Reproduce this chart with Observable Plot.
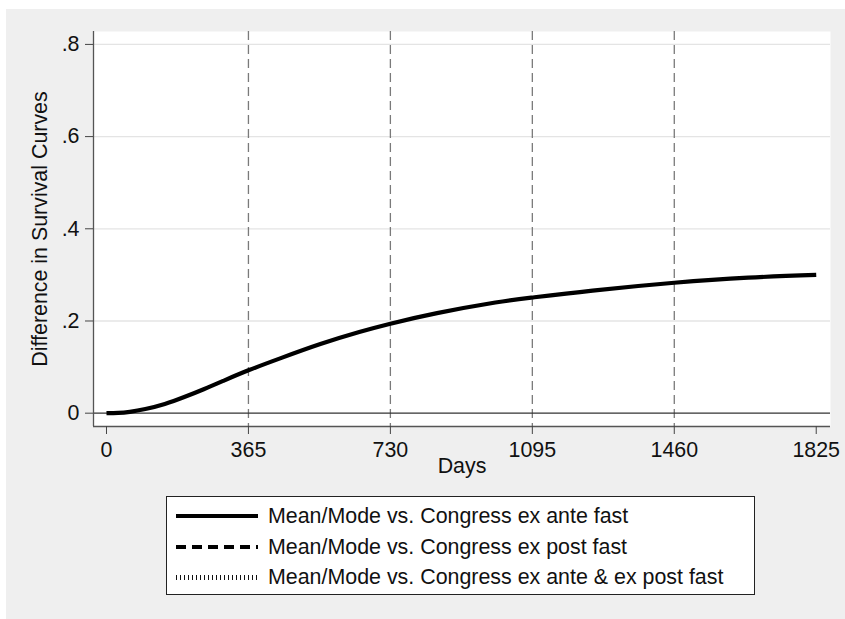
<!DOCTYPE html>
<html>
<head>
<meta charset="utf-8">
<script src="https://cdn.jsdelivr.net/npm/d3@7"></script>
<script src="https://cdn.jsdelivr.net/npm/@observablehq/plot@0.6"></script>
<style>
  html, body { margin: 0; padding: 0; background: #ffffff; }
  #page { position: relative; width: 845px; height: 619px; overflow: hidden; font-family: "Liberation Sans", Arial, Helvetica, sans-serif; }
  #bg { position: absolute; left: 6px; top: 9px; width: 839px; height: 610px; background: #efefef; }
  #chart { position: absolute; left: 0; top: 0; }
  #legend { position: absolute; left: 166px; top: 496px; width: 587px; height: 97px; background: #ffffff; border: 1px solid #222; box-sizing: content-box; }
  .row { position: absolute; left: 0; height: 30px; display: flex; align-items: center; }
  .row svg { margin-left: 9px; }
  .row span { margin-left: 10px; font-size: 21.4px; color: #111; white-space: nowrap; }
</style>
</head>
<body>
<div id="page">
  <div id="bg"></div>
  <div id="chart"></div>
  <div id="legend"></div>
</div>
<script>
// Data
const days = [0, 30, 60, 100, 150, 200, 250, 300, 365, 450, 550, 650, 730, 850, 1000, 1095, 1250, 1460, 1650, 1825];
const diffAnteFast = [0, 0.0006, 0.003, 0.009, 0.020, 0.035, 0.052, 0.070, 0.093, 0.120, 0.150, 0.176, 0.194, 0.217, 0.240, 0.251, 0.266, 0.283, 0.294, 0.300];
const xTicks = [0, 365, 730, 1095, 1460, 1825];
const yTicks = [0, 0.2, 0.4, 0.6, 0.8];
const gridValues = [0.2, 0.4, 0.6, 0.8];
const yearMarks = [365, 730, 1095, 1460];
const seriesLabels = [
  "Mean/Mode vs. Congress ex ante fast",
  "Mean/Mode vs. Congress ex post fast",
  "Mean/Mode vs. Congress ex ante & ex post fast"
];
const xLabel = "Days";
const yLabel = "Difference in Survival Curves";

const data = days.map((d, i) => ({day: d, value: diffAnteFast[i]}));
const xDomain = [-33.4, 1861.7];
const yDomain = [-0.0289, 0.828];

const fmtY = d => d === 0 ? "0" : d3.format(".1f")(d).replace(/^0\./, ".");

const plot = Plot.plot({
  width: 845,
  height: 490,
  marginLeft: 93,
  marginRight: 15,
  marginTop: 31,
  marginBottom: 64,
  style: {background: "transparent", fontFamily: "Liberation Sans, Arial, Helvetica, sans-serif", fontSize: "21.4px", color: "#111"},
  x: {domain: xDomain},
  y: {domain: yDomain},
  marks: [
    Plot.frame({fill: "white", stroke: null}),
    Plot.ruleY(gridValues, {stroke: "#e4e4e4", strokeWidth: 1.3}),
    Plot.ruleX(yearMarks, {stroke: "#7a7a7a", strokeWidth: 1.3, strokeDasharray: "9,5"}),
    Plot.ruleY([0], {stroke: "#333", strokeWidth: 1.2}),
    Plot.ruleX([xDomain[0]], {stroke: "#555", strokeWidth: 1.3}),
    Plot.ruleY([yDomain[0]], {stroke: "#555", strokeWidth: 1.3}),
    Plot.line(data, {x: "day", y: "value", stroke: "black", strokeWidth: 4.2, curve: "natural", strokeLinecap: "butt"}),
    Plot.axisY({ticks: yTicks, tickFormat: fmtY, tickSize: 8, tickPadding: 6, stroke: "#444", label: null, fontSize: 21.4}),
    Plot.axisX({ticks: xTicks, tickFormat: d => String(d), tickSize: 8, tickPadding: 7, stroke: "#444", label: null, fontSize: 21.4}),
    Plot.text([yLabel], {frameAnchor: "left", dx: -53, rotate: -90, textAnchor: "middle", fontSize: 21.4, fill: "#111"}),
    Plot.text([xLabel], {frameAnchor: "bottom", dy: 46, textAnchor: "middle", fontSize: 21.4, fill: "#111"})
  ]
});
document.getElementById("chart").appendChild(plot);

// Legend
const legend = document.getElementById("legend");
const samples = [
  {dash: null, width: 4.2, color: "#000"},
  {dash: "10,6", width: 4.2, color: "#000"},
  {dash: "1,3", width: 5, color: "#111"}
];
const rowTops = [4, 35, 65];
seriesLabels.forEach((lab, i) => {
  const row = document.createElement("div");
  row.className = "row";
  row.style.top = rowTops[i] + "px";
  const s = samples[i];
  row.innerHTML = `<svg width="82" height="10"><line x1="0" y1="5" x2="82" y2="5" stroke="${s.color}" stroke-width="${s.width}" shape-rendering="crispEdges" ${s.dash ? `stroke-dasharray="${s.dash}"` : ""}/></svg><span>${lab}</span>`;
  legend.appendChild(row);
});
</script>
</body>
</html>
